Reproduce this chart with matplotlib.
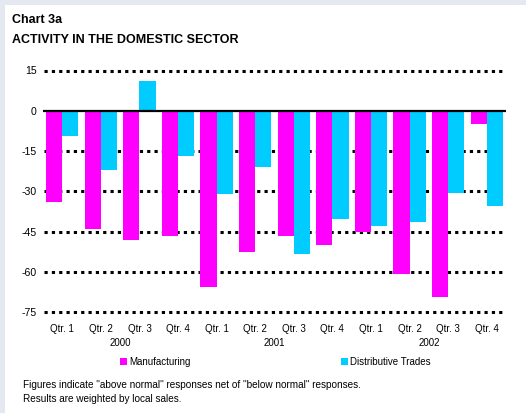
import numpy as np
import matplotlib.pyplot as plt
from matplotlib.patches import Rectangle
from matplotlib.transforms import blended_transform_factory

plt.rcParams['font.family'] = ['Liberation Sans', 'DejaVu Sans']

QUARTERS = ["Qtr. 1", "Qtr. 2", "Qtr. 3", "Qtr. 4"] * 3
YEARS = ["2000", "2001", "2002"]
MANUFACTURING = [-34, -44, -48, -46.5, -65.5, -52.5, -46.5, -50, -45, -61, -69.5, -5]
DISTRIBUTIVE = [-9.5, -22, 11, -17, -31, -21, -53.5, -40.5, -43, -41.5, -30.5, -35.5]
Y_TICKS = [15, 0, -15, -30, -45, -60, -75]

MAGENTA = "#ff00ff"
CYAN = "#00ccff"
W, H = 526, 413


def main():
    fig = plt.figure(figsize=(W / 100, H / 100), dpi=100)
    fig.patch.set_facecolor("#e4e8f0")
    fig.add_artist(Rectangle((5 / W, 0), 1, 1 - 5 / H, transform=fig.transFigure,
                             facecolor="white", edgecolor="none", zorder=0))

    # plot area: 15 -> y=70.5px, -75 -> y=312px
    px_per_unit = (312 - 70.5) / 90
    top = 70.5 - 1 * px_per_unit
    bottom = 312 + 1 * px_per_unit
    ax = fig.add_axes([43 / W, 1 - bottom / H, (506 - 43) / W, (bottom - top) / H])
    ax.set_facecolor("none")

    x = np.arange(len(MANUFACTURING))
    w = 0.42
    ax.bar(x - w / 2, MANUFACTURING, w, color=MAGENTA, label="Manufacturing", zorder=2)
    ax.bar(x + w / 2, DISTRIBUTIVE, w, color=CYAN, label="Distributive Trades", zorder=2)

    for y in Y_TICKS:
        if y == 0:
            ax.axhline(0, color="black", linewidth=1.6, zorder=3)
        else:
            ax.axhline(y, color="black", linewidth=2.2, dashes=(1.05, 1.35),
                       xmin=0.003, xmax=0.995, zorder=1)

    ax.set_xlim(-0.5, len(x) - 0.5)
    ax.set_ylim(-76, 16)
    ax.set_yticks(Y_TICKS)
    ax.set_yticklabels([str(t) for t in Y_TICKS])
    ax.set_xticks(x)
    ax.set_xticklabels(QUARTERS)
    ax.tick_params(length=0, labelsize=7)
    ax.tick_params(axis="y", pad=4.5, labelsize=7.6)
    ax.tick_params(axis="x", pad=7)
    for s in ax.spines.values():
        s.set_visible(False)

    trans = blended_transform_factory(ax.transData, fig.transFigure)
    for i, yr in enumerate(YEARS):
        ax.text(i * 4 + 1.5, 1 - 343 / H, yr, transform=trans, ha="center", va="center",
                fontsize=7)

    fig.legend(loc="center left", bbox_to_anchor=(120 / W, 1 - 362 / H), ncol=2,
               frameon=False, fontsize=7, handlelength=0.7, handleheight=0.7,
               handletextpad=0.2, columnspacing=15.5, borderaxespad=0, borderpad=0)

    fig.text(12 / W, 1 - 20 / H, "Chart 3a", fontsize=9, fontweight="bold",
             va="center", ha="left")
    fig.text(12 / W, 1 - 40 / H, "ACTIVITY IN THE DOMESTIC SECTOR", fontsize=9,
             fontweight="bold", va="center", ha="left")

    fig.text(23 / W, 1 - 385 / H,
             'Figures indicate "above normal" responses net of "below normal" responses.',
             fontsize=7.2, va="center", ha="left")
    fig.text(23 / W, 1 - 399 / H, "Results are weighted by local sales.",
             fontsize=7.2, va="center", ha="left")

    fig.savefig("out.png", dpi=100, facecolor=fig.get_facecolor())


if __name__ == '__main__':
    main()
